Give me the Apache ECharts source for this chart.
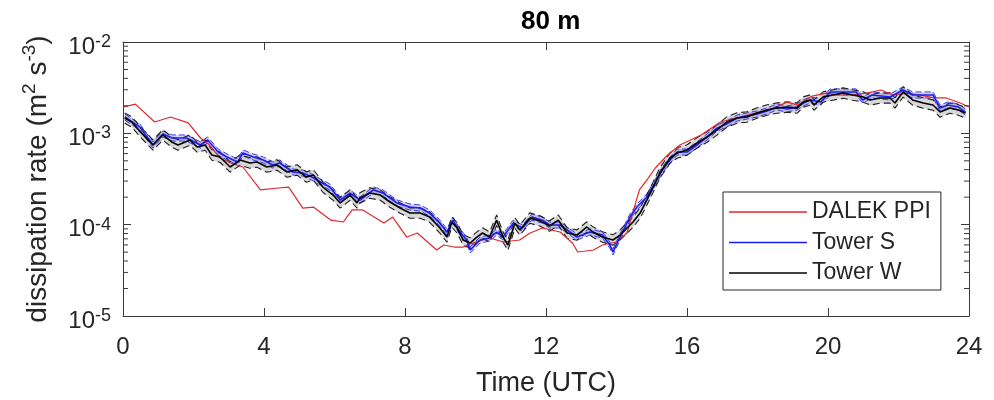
<!DOCTYPE html>
<html><head><meta charset="utf-8">
<script src="https://cdn.jsdelivr.net/npm/echarts@6/dist/echarts.min.js"></script>
<style>html,body{margin:0;padding:0;background:#fff}#c{width:994px;height:400px}</style>
</head><body><div id="c"></div>
<script>
// ---- data ----
const titleText = '80 m';
const seriesNames = ['DALEK PPI', 'Tower S', 'Tower W'];
const xTicks = [0, 4, 8, 12, 16, 20, 24];
const minorTickValues = [2e-5,3e-5,4e-5,5e-5,6e-5,7e-5,8e-5,9e-5,
  2e-4,3e-4,4e-4,5e-4,6e-4,7e-4,8e-4,9e-4,
  2e-3,3e-3,4e-3,5e-3,6e-3,7e-3,8e-3,9e-3];

// [time (UTC h), dissipation rate]
const dalek = [[0,1.94e-3],[0.35,2.09e-3],[0.9,1.33e-3],[1.35,1.51e-3],[1.85,1.30e-3],[2.2,8.89e-4],[2.45,7.45e-4],[2.75,5.37e-4],[3.05,4.73e-4],[3.4,4.28e-4],[3.9,2.40e-4],[4.4,2.52e-4],[4.7,2.58e-4],[5.1,1.52e-4],[5.4,1.56e-4],[5.9,1.12e-4],[6.25,1.07e-4],[6.5,1.45e-4],[6.8,1.45e-4],[7.4,1.04e-4],[7.65,1.21e-4],[8.05,7.32e-5],[8.35,8.10e-5],[8.9,5.28e-5],[9.1,5.99e-5],[9.4,5.69e-5],[9.65,5.69e-5],[10.0,6.46e-5],[10.4,7.14e-5],[10.8,6.46e-5],[11.25,6.79e-5],[11.55,8.10e-5],[11.9,9.19e-5],[12.4,8.31e-5],[12.75,6.30e-5],[12.9,5.02e-5],[13.35,5.28e-5],[13.6,5.99e-5],[14.0,6.46e-5],[14.3,8.10e-5],[14.4,1.12e-4],[14.65,2.40e-4],[14.9,3.24e-4],[15.1,4.17e-4],[15.45,5.79e-4],[15.8,7.45e-4],[16.4,9.59e-4],[16.95,1.33e-3],[17.5,1.51e-3],[18.05,1.71e-3],[18.45,1.89e-3],[18.85,2.20e-3],[19.15,2.04e-3],[19.55,2.56e-3],[19.95,2.76e-3],[20.35,2.63e-3],[20.7,2.63e-3],[21.1,2.76e-3],[21.5,2.98e-3],[21.85,2.63e-3],[22.25,2.76e-3],[22.6,2.63e-3],[23.0,2.44e-3],[23.35,2.44e-3],[23.75,2.15e-3],[24.0,1.94e-3]];

const towerS = [[0.05,1.51e-3],[0.48,1.17e-3],[0.85,7.45e-4],[1.13,9.83e-4],[1.4,8.89e-4],[1.8,8.89e-4],[2.2,7.45e-4],[2.4,8.45e-4],[2.7,6.24e-4],[2.95,5.50e-4],[3.25,4.85e-4],[3.4,6.09e-4],[3.7,5.50e-4],[3.98,5.10e-4],[4.25,4.50e-4],[4.45,4.73e-4],[4.82,3.77e-4],[5.1,3.68e-4],[5.36,3.32e-4],[5.6,2.93e-4],[5.87,2.58e-4],[6.16,1.86e-4],[6.44,2.22e-4],[6.72,1.86e-4],[7.1,2.40e-4],[7.38,2.22e-4],[7.77,1.73e-4],[8.14,1.56e-4],[8.43,1.52e-4],[8.7,1.34e-4],[8.99,1.04e-4],[9.19,8.31e-5],[9.36,1.12e-4],[9.56,8.31e-5],[9.75,6.79e-5],[9.85,5.28e-5],[10.13,6.79e-5],[10.4,7.14e-5],[10.6,8.31e-5],[10.78,7.32e-5],[11.07,1.04e-4],[11.33,9.19e-5],[11.6,1.21e-4],[11.9,1.12e-4],[12.1,9.91e-5],[12.4,9.91e-5],[12.6,8.74e-5],[12.88,7.32e-5],[13.25,8.31e-5],[13.6,7.70e-5],[13.81,5.99e-5],[13.9,5.02e-5],[14.1,7.32e-5],[14.38,1.21e-4],[14.58,1.56e-4],[14.86,2.01e-4],[15.14,3.08e-4],[15.3,3.97e-4],[15.52,5.10e-4],[15.72,6.24e-4],[16.0,6.24e-4],[16.28,7.45e-4],[16.57,9.12e-4],[16.85,1.14e-3],[17.13,1.27e-3],[17.42,1.47e-3],[17.7,1.55e-3],[17.99,1.63e-3],[18.27,1.76e-3],[18.55,1.94e-3],[18.84,1.85e-3],[19.12,1.94e-3],[19.3,2.15e-3],[19.5,2.32e-3],[19.8,2.20e-3],[20.06,2.84e-3],[20.4,2.84e-3],[20.8,2.84e-3],[20.98,2.32e-3],[21.25,2.63e-3],[21.76,2.50e-3],[22.13,2.98e-3],[22.4,2.63e-3],[22.7,2.63e-3],[22.98,2.63e-3],[23.18,1.89e-3],[23.4,2.04e-3],[23.7,1.94e-3],[23.9,1.71e-3]];

const towerW = [[0.05,1.47e-3],[0.25,1.33e-3],[0.5,1.03e-3],[0.85,7.45e-4],[1.13,9.59e-4],[1.38,8.04e-4],[1.56,7.45e-4],[1.9,8.45e-4],[2.1,7.08e-4],[2.33,7.45e-4],[2.52,5.79e-4],[2.75,5.50e-4],[3.04,4.28e-4],[3.32,5.10e-4],[3.6,4.73e-4],[3.8,4.85e-4],[4.08,4.28e-4],[4.37,4.50e-4],[4.65,3.77e-4],[4.94,3.97e-4],[5.2,3.32e-4],[5.4,3.50e-4],[5.67,2.58e-4],[5.96,2.11e-4],[6.16,1.73e-4],[6.44,2.11e-4],[6.64,1.73e-4],[6.72,1.96e-4],[7.0,2.22e-4],[7.3,2.11e-4],[7.57,1.77e-4],[7.86,1.52e-4],[8.14,1.34e-4],[8.43,1.34e-4],[8.7,1.21e-4],[8.99,9.19e-5],[9.19,7.32e-5],[9.33,1.07e-4],[9.48,9.19e-5],[9.65,6.79e-5],[9.85,6.30e-5],[10.04,7.32e-5],[10.2,8.10e-5],[10.4,7.32e-5],[10.6,1.12e-4],[10.78,7.32e-5],[10.92,5.99e-5],[11.12,1.04e-4],[11.26,8.74e-5],[11.54,1.18e-4],[11.83,1.10e-4],[12.1,9.67e-5],[12.35,1.12e-4],[12.6,8.10e-5],[12.88,7.70e-5],[13.16,9.43e-5],[13.33,8.31e-5],[13.6,7.32e-5],[13.9,6.79e-5],[14.1,7.70e-5],[14.3,9.19e-5],[14.47,1.07e-4],[14.67,1.34e-4],[14.86,1.86e-4],[15.04,2.58e-4],[15.23,3.68e-4],[15.52,5.37e-4],[15.72,6.09e-4],[16.0,6.57e-4],[16.28,7.83e-4],[16.57,9.12e-4],[16.85,1.09e-3],[17.13,1.33e-3],[17.42,1.47e-3],[17.7,1.51e-3],[17.99,1.67e-3],[18.27,1.80e-3],[18.55,1.89e-3],[18.84,1.94e-3],[19.12,1.89e-3],[19.3,2.20e-3],[19.5,2.32e-3],[19.6,2.04e-3],[19.86,2.50e-3],[20.14,2.63e-3],[20.43,2.76e-3],[20.7,2.63e-3],[21.0,2.50e-3],[21.2,2.32e-3],[21.47,2.44e-3],[21.76,2.44e-3],[21.9,2.15e-3],[22.13,2.84e-3],[22.4,2.32e-3],[22.7,2.15e-3],[22.98,2.04e-3],[23.18,1.71e-3],[23.46,1.89e-3],[23.7,1.80e-3],[23.9,1.67e-3]];

// multiplicative half-width of each tower's shaded uncertainty band
const towerSBand = 1.08;
const towerWBand = 1.14;

// ---- styling / build ----
const FONT = "'Liberation Sans', Arial, Helvetica, sans-serif";
const TXT = '#262626';
const AX = '#3a3a3a';

function scaled(arr, f) { return arr.map(p => [p[0], p[1] * f]); }

function band(name, data, f, fill, z) {
  return {
    name: name, type: 'custom', z: z, silent: true, animation: false,
    data: [data[0]],
    renderItem: function (params, api) {
      const pts = [];
      for (let i = 0; i < data.length; i++) pts.push(api.coord([data[i][0], data[i][1] * f]));
      for (let i = data.length - 1; i >= 0; i--) pts.push(api.coord([data[i][0], data[i][1] / f]));
      return { type: 'polygon', shape: { points: pts }, style: { fill: fill, stroke: null } };
    }
  };
}
function line(name, data, color, width, type, z) {
  return {
    name: name, type: 'line', data: data, z: z, showSymbol: false, symbol: 'none',
    animation: false, silent: true,
    itemStyle: { color: color },
    lineStyle: { color: color, width: width, type: type || 'solid', dashOffset: 0 }
  };
}

const minorTicks = {
  type: 'custom', z: 20, silent: true, animation: false,
  data: minorTickValues.map(v => [0, v]),
  renderItem: function (params, api) {
    const v = api.value(1);
    const l = api.coord([xTicks[0], v]);
    const r = api.coord([xTicks[xTicks.length - 1], v]);
    return { type: 'group', children: [
      { type: 'line', shape: { x1: l[0], y1: l[1], x2: l[0] + 5, y2: l[1] }, style: { stroke: AX, lineWidth: 1 } },
      { type: 'line', shape: { x1: r[0], y1: r[1], x2: r[0] - 5, y2: r[1] }, style: { stroke: AX, lineWidth: 1 } }
    ]};
  }
};

const chart = echarts.init(document.getElementById('c'), null, { renderer: 'canvas' });
const yCommon = {
  type: 'log', logBase: 10, min: 1e-5, max: 1e-2,
  axisLine: { show: true, onZero: false, lineStyle: { color: AX, width: 1 } },
  axisTick: { show: true, inside: true, length: 8, lineStyle: { color: AX } },
  splitLine: { show: false }, minorTick: { show: false }
};
const xCommon = {
  type: 'value', min: xTicks[0], max: xTicks[xTicks.length - 1], interval: xTicks[1] - xTicks[0],
  axisLine: { show: true, onZero: false, lineStyle: { color: AX, width: 1 } },
  axisTick: { show: true, inside: true, length: 8, lineStyle: { color: AX } },
  splitLine: { show: false }
};

chart.setOption({
  animation: false,
  backgroundColor: '#fff',
  textStyle: { fontFamily: FONT },
  title: {
    text: titleText, left: 516, top: 4,
    textStyle: { fontFamily: FONT, fontSize: 26, fontWeight: 'bold', color: '#000' }
  },
  grid: { left: 123, right: 25, top: 42, bottom: 84, containLabel: false, outerBoundsMode: 'none' },
  legend: {
    orient: 'vertical', left: 723, top: 192,
    padding: [8, 10, 5, 6], itemGap: 6.5, itemWidth: 78, itemHeight: 1.5,
    icon: 'rect', borderColor: '#262626', borderWidth: 1, backgroundColor: '#fff',
    textStyle: { fontFamily: FONT, fontSize: 23, color: TXT, lineHeight: 24 },
    data: seriesNames
  },
  xAxis: [
    Object.assign({}, xCommon, {
      position: 'bottom',
      name: 'Time (UTC)', nameLocation: 'middle', nameGap: 54,
      nameTextStyle: { fontFamily: FONT, fontSize: 27, color: TXT },
      axisLabel: { show: true, margin: 19, fontFamily: FONT, fontSize: 24, color: TXT }
    }),
    Object.assign({}, xCommon, { position: 'top', axisLabel: { show: false } })
  ],
  yAxis: [
    Object.assign({}, yCommon, {
      position: 'left',
      name: 'dissipation rate (m{sup|2} s{sup|-3})', nameLocation: 'middle', nameRotate: 90, nameGap: 66,
      nameTextStyle: { fontFamily: FONT, fontSize: 28, color: TXT,
        rich: { sup: { fontFamily: FONT, fontSize: 19, color: TXT, padding: [0, 0, 18, 0] } } },
      axisLabel: {
        show: true, margin: 12, color: TXT,
        formatter: v => '{b|10}{s|' + Math.round(Math.log10(v)) + '}',
        rich: {
          b: { fontFamily: FONT, fontSize: 24, color: TXT, padding: [10, 0, 0, 0] },
          s: { fontFamily: FONT, fontSize: 18, color: TXT }
        }
      }
    }),
    Object.assign({}, yCommon, { position: 'right', axisLabel: { show: false } })
  ],
  series: [
    band('Tower S band', towerS, towerSBand, 'rgba(95,95,255,0.28)', 2),
    band('Tower W band', towerW, towerWBand, 'rgba(140,140,140,0.35)', 3),
    line('Tower S upper', scaled(towerS, towerSBand), '#3a3ae6', 1, [6, 3], 4),
    line('Tower S lower', scaled(towerS, 1 / towerSBand), '#3a3ae6', 1, [6, 3], 4),
    line('Tower W upper', scaled(towerW, towerWBand), '#202020', 1.1, [7, 4], 5),
    line('Tower W lower', scaled(towerW, 1 / towerWBand), '#202020', 1.1, [7, 4], 5),
    line(seriesNames[0], dalek, '#e3262a', 1.2, 'solid', 6),
    line(seriesNames[1], towerS, '#1c1cee', 1.6, 'solid', 7),
    line(seriesNames[2], towerW, '#000000', 1.6, 'solid', 8),
    minorTicks
  ]
});
</script>
</body></html>
